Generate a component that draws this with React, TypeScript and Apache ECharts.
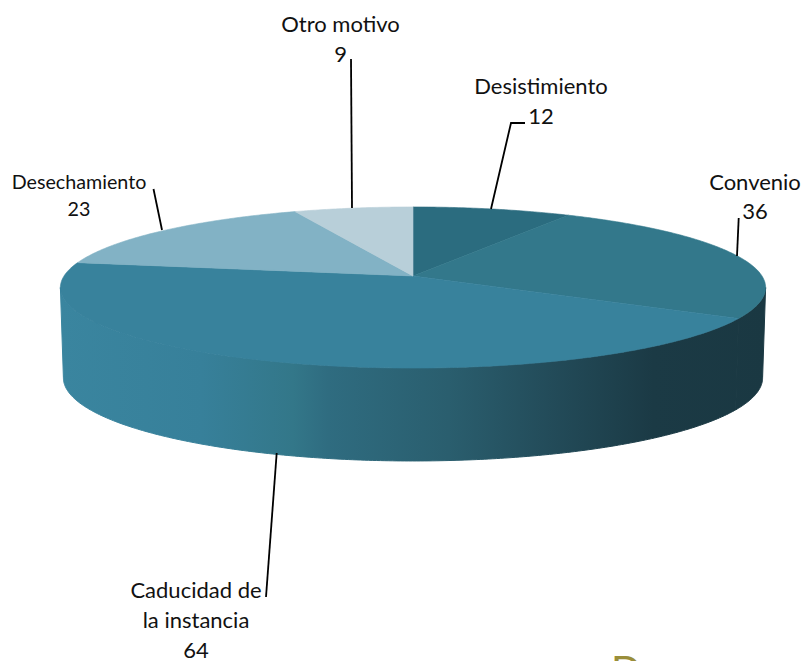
import React, { useEffect, useRef } from "react";
import * as echarts from "echarts";

const categories = ["Desistimiento", "Convenio", "Caducidad de\nla instancia", "Desechamiento", "Otro motivo"];
const values = [12, 36, 64, 23, 9];
const topColors = ["#2B6C7F", "#33788B", "#38829C", "#82B2C5", "#B8CFD9"];

const CX = 413, CY = 276, R = 349, RY = 78.9, K = 1 / 7;
const BOTTOM_CY = 366, BOTTOM_R = 346, BOTTOM_RY = 81.4;

const sideGradient = new echarts.graphic.LinearGradient(60, 0, 766, 0, [
  { offset: 0, color: "#3A859F" },
  { offset: 0.2, color: "#37809A" },
  { offset: 0.33, color: "#337789" },
  { offset: 0.38, color: "#2F6C80" },
  { offset: 0.55, color: "#2A5E6E" },
  { offset: 0.69, color: "#234C5A" },
  { offset: 0.84, color: "#1B3A45" },
  { offset: 1, color: "#1A3842" },
], true as any);

function project(theta: number, cy: number, r: number, ry: number): number[] {
  const x = Math.sin(theta), z = Math.cos(theta), d = 1 + K * z;
  return [CX + (r * x) / d, cy - (ry * z) / d];
}

const total = values.reduce((a, b) => a + b, 0);
const starts: number[] = [];
values.reduce((acc, v, i) => { starts[i] = acc; return acc + v; }, 0);

function arc(a0: number, a1: number, cy: number, r: number, ry: number): number[][] {
  const n = Math.max(2, Math.ceil(Math.abs(a1 - a0) / 0.01));
  const pts: number[][] = [];
  for (let i = 0; i <= n; i++) pts.push(project(a0 + ((a1 - a0) * i) / n, cy, r, ry));
  return pts;
}

function angles(i: number): [number, number] {
  return [(starts[i] / total) * Math.PI * 2, ((starts[i] + values[i]) / total) * Math.PI * 2];
}

// Only the near part of the rim is visible: it lies between the two silhouette angles.
const VIS0 = Math.acos(-K);
const VIS1 = Math.PI * 2 - VIS0;

const renderSide = (params: any) => {
  const [s0, s1] = angles(params.dataIndex);
  const a0 = Math.max(s0, VIS0), a1 = Math.min(s1, VIS1);
  if (a1 <= a0) return { type: "group", children: [] };
  const pts = arc(a0, a1, CY, R, RY).concat(arc(a1, a0, BOTTOM_CY, BOTTOM_R, BOTTOM_RY));
  return { type: "polygon", shape: { points: pts }, style: { fill: sideGradient, stroke: sideGradient, lineWidth: 1 } };
};

const renderTop = (params: any) => {
  const [a0, a1] = angles(params.dataIndex);
  const pts = [[CX, CY], ...arc(a0, a1, CY, R, RY)];
  const c = topColors[params.dataIndex];
  return { type: "polygon", shape: { points: pts }, style: { fill: c, stroke: c, lineWidth: 0.6 } };
};

type Lbl = { i: number; x: number; y: number; size: number; lh: number; line: number[][] };
const labelLayout: Lbl[] = [
  { i: 0, x: 541, y: 100, size: 22, lh: 30, line: [[525, 123], [511, 123], [491, 209]] },
  { i: 1, x: 755, y: 196, size: 22, lh: 29, line: [[738.7, 218], [737, 256]] },
  { i: 2, x: 196, y: 619.5, size: 22, lh: 30, line: [[266, 597], [276.7, 453]] },
  { i: 3, x: 79, y: 194.5, size: 19.7, lh: 27, line: [[153.5, 189], [162, 230]] },
  { i: 4, x: 340.5, y: 38.5, size: 22, lh: 29.5, line: [[351, 59], [352, 208]] },
];

export default function App() {
  const ref = useRef<HTMLDivElement>(null);
  useEffect(() => {
    const chart = echarts.init(ref.current!, null, { renderer: "svg" });
    const graphic: any[] = [];
    labelLayout.forEach((l) => {
      graphic.push({
        type: "polyline", z: 10,
        shape: { points: l.line },
        style: { stroke: "#000", lineWidth: 1.8, fill: "none" },
      });
      graphic.push({
        type: "text", x: l.x, y: l.y, z: 11,
        style: {
          text: categories[l.i] + "\n" + values[l.i],
          font: `${l.size}px Lato`, lineHeight: l.lh,
          fill: "#111", align: "center", verticalAlign: "middle",
        },
      });
    });
    graphic.push({
      type: "text", x: 611, y: 650, z: 11,
      style: { text: "D", font: "40px Lato", fill: "#9A8E3A" },
    });
    chart.setOption({
      animation: false,
      backgroundColor: "#fff",
      series: [
        { type: "custom", coordinateSystem: "none", renderItem: renderSide, data: values, z: 1, silent: true },
        { type: "custom", coordinateSystem: "none", renderItem: renderTop, data: values, z: 2, silent: true },
      ],
      graphic,
    });
    return () => chart.dispose();
  }, []);
  return <div ref={ref} style={{ width: 803, height: 661, position: "absolute", left: 0, top: 0 }} />;
}
